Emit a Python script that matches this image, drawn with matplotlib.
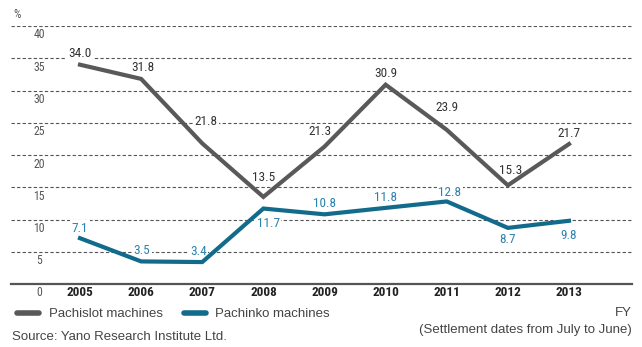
import matplotlib
matplotlib.use("Agg")
import matplotlib.pyplot as plt
from matplotlib.lines import Line2D

years = [2005, 2006, 2007, 2008, 2009, 2010, 2011, 2012, 2013]
pachislot = [34.0, 31.8, 21.8, 13.5, 21.3, 30.9, 23.9, 15.3, 21.7]
pachinko = [7.1, 3.5, 3.4, 11.7, 10.8, 11.8, 12.8, 8.7, 9.8]
y_ticks = [0, 5, 10, 15, 20, 25, 30, 35, 40]
series_names = ["Pachislot machines", "Pachinko machines"]

# label offsets in pixels (dx, dy) from point
slot_off = [(0, 11), (2, 11), (4, 22), (0, 19), (-5, 15), (0, 11), (0, 22), (3, 15), (0, 11)]
pach_off = [(0, 10), (1, 11), (-4, 11), (5, -15), (0, 11), (0, 10), (3, 9), (0, -12), (0, -15)]

W, H = 642, 347
fig = plt.figure(figsize=(W / 100, H / 100), dpi=100)
ax_left, ax_right = 11, 632
ax_bottom, ax_top = 284, 26
ax = fig.add_axes([ax_left / W, 1 - ax_bottom / H, (ax_right - ax_left) / W, (ax_bottom - ax_top) / H])

x0, x1 = 80, 569
px_per_year = (x1 - x0) / 8
ax.set_xlim(2005 - (x0 - ax_left) / px_per_year, 2013 + (ax_right - x1) / px_per_year)
ax.set_ylim(0, 40)

narrow = ['Roboto Condensed', 'DejaVu Sans']
regular = ['Liberation Sans', 'DejaVu Sans']

for s in ['top', 'right', 'left']:
    ax.spines[s].set_visible(False)
ax.spines['bottom'].set_color('#555555')
ax.spines['bottom'].set_linewidth(1.6)
ax.set_xticks([])
ax.set_yticks([])

for v in y_ticks[1:]:
    ax.axhline(v, color='#555555', lw=0.8, ls=(0, (3, 2)), zorder=1)

slot_color = '#595959'
pach_color = '#136b8c'
ax.plot(years, pachislot, color=slot_color, lw=3.0, zorder=5, solid_joinstyle='miter')
ax.plot(years, pachinko, color=pach_color, lw=3.0, zorder=5, solid_joinstyle='miter')

pt = 0.72
for x, v, (dx, dy) in zip(years, pachislot, slot_off):
    ax.annotate(f"{v:.1f}", (x, v), xytext=(dx * pt, dy * pt), textcoords='offset points',
                ha='center', va='center', fontsize=9.5, family=narrow, color='#333333', zorder=3,
                bbox=dict(boxstyle='square,pad=0.1', fc='white', ec='none'))
for x, v, (dx, dy) in zip(years, pachinko, pach_off):
    ax.annotate(f"{v:.1f}", (x, v), xytext=(dx * pt, dy * pt), textcoords='offset points',
                ha='center', va='center', fontsize=9.5, family=narrow, color='#2a82ad', zorder=3,
                bbox=dict(boxstyle='square,pad=0.1', fc='white', ec='none'))

# y tick labels (below gridlines)
for v in y_ticks:
    ax.annotate(str(v), (0, v), xycoords=('axes fraction', 'data'), xytext=(28 * pt, -9 * pt),
                textcoords='offset points', ha='center', va='center', fontsize=8.5,
                family=narrow, color='#555555')
fig.text(13 / W, 1 - 14 / H, "%", fontsize=8.5, family=narrow, color='#555555', va='center')

# x labels
for x in years:
    ax.annotate(str(x), (x, 0), xytext=(0, -9 * pt), textcoords='offset points',
                ha='center', va='center', fontsize=9.5, family=narrow, weight='bold', color='#222222')

handles = [Line2D([], [], color=slot_color, lw=4, solid_capstyle='round'),
           Line2D([], [], color=pach_color, lw=4, solid_capstyle='round')]
fig.legend(handles, series_names, loc='center left', bbox_to_anchor=(5 / W, 1 - 314 / H),
           ncol=2, frameon=False, prop={'family': regular, 'size': 9.5}, handlelength=1.7,
           handletextpad=0.7, columnspacing=1.6, labelcolor='#444444')

fig.text(12 / W, 1 - 337 / H, "Source: Yano Research Institute Ltd.", fontsize=9.5,
         family=regular, color='#444444', va='center')
fig.text(632 / W, 1 - 313 / H, "FY", fontsize=9.5, family=regular, color='#444444',
         va='center', ha='right')
fig.text(632 / W, 1 - 330 / H, "(Settlement dates from July to June)", fontsize=9.5,
         family=regular, color='#444444', va='center', ha='right')

fig.savefig("out.png", dpi=100)
